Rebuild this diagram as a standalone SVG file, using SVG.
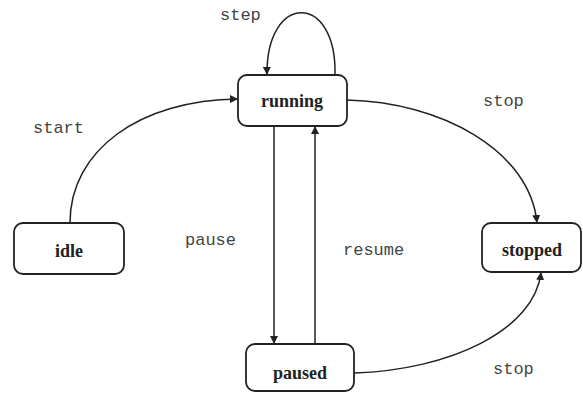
<svg xmlns="http://www.w3.org/2000/svg" width="583" height="394" viewBox="0 0 583 394">
<defs>
<marker id="arr" viewBox="0 0 10 10" refX="10" refY="5" markerWidth="8" markerHeight="8" orient="auto" markerUnits="userSpaceOnUse">
<path d="M0,0 L10,5 L0,10 z" fill="#222"/>
</marker>
<style>
.node rect{fill:#fff;stroke:#222;stroke-width:1.8}
.node text{font-family:"Liberation Serif",serif;font-weight:bold;font-size:18px;fill:#222;text-anchor:middle}
.edge{fill:none;stroke:#222;stroke-width:1.5;marker-end:url(#arr)}
.lbl{font-family:"Liberation Mono",monospace;font-size:17px;fill:#444}
</style>
</defs>
<rect width="583" height="394" fill="#fff"/>
<g id="connectors">
<path class="edge" d="M70,223 C70,150 140,100 238,99"/>
<path class="edge" d="M335,75 C337,-8 266,-8 267,75"/>
<path class="edge" d="M347,100 C440,102 530,150 537,223"/>
<path class="edge" d="M274,126 L274,344"/>
<path class="edge" d="M315,344 L315,126"/>
<path class="edge" d="M354,373 C450,370 535,330 541,272"/>
</g>
<g id="labels">
<text class="lbl" x="220" y="20">step</text>
<text class="lbl" x="33" y="133">start</text>
<text class="lbl" x="483" y="106">stop</text>
<text class="lbl" x="185" y="245">pause</text>
<text class="lbl" x="343" y="255">resume</text>
<text class="lbl" x="493" y="374">stop</text>
</g>
<g id="running" class="node"><rect x="238" y="75" width="109" height="51" rx="9"/><text x="292" y="107">running</text></g>
<g id="idle" class="node"><rect x="14" y="223" width="110" height="51" rx="9"/><text x="69" y="257">idle</text></g>
<g id="stopped" class="node"><rect x="482" y="223" width="99" height="49" rx="9"/><text x="532" y="256">stopped</text></g>
<g id="paused" class="node"><rect x="246" y="344" width="108" height="47" rx="9"/><text x="300" y="379">paused</text></g>
</svg>
